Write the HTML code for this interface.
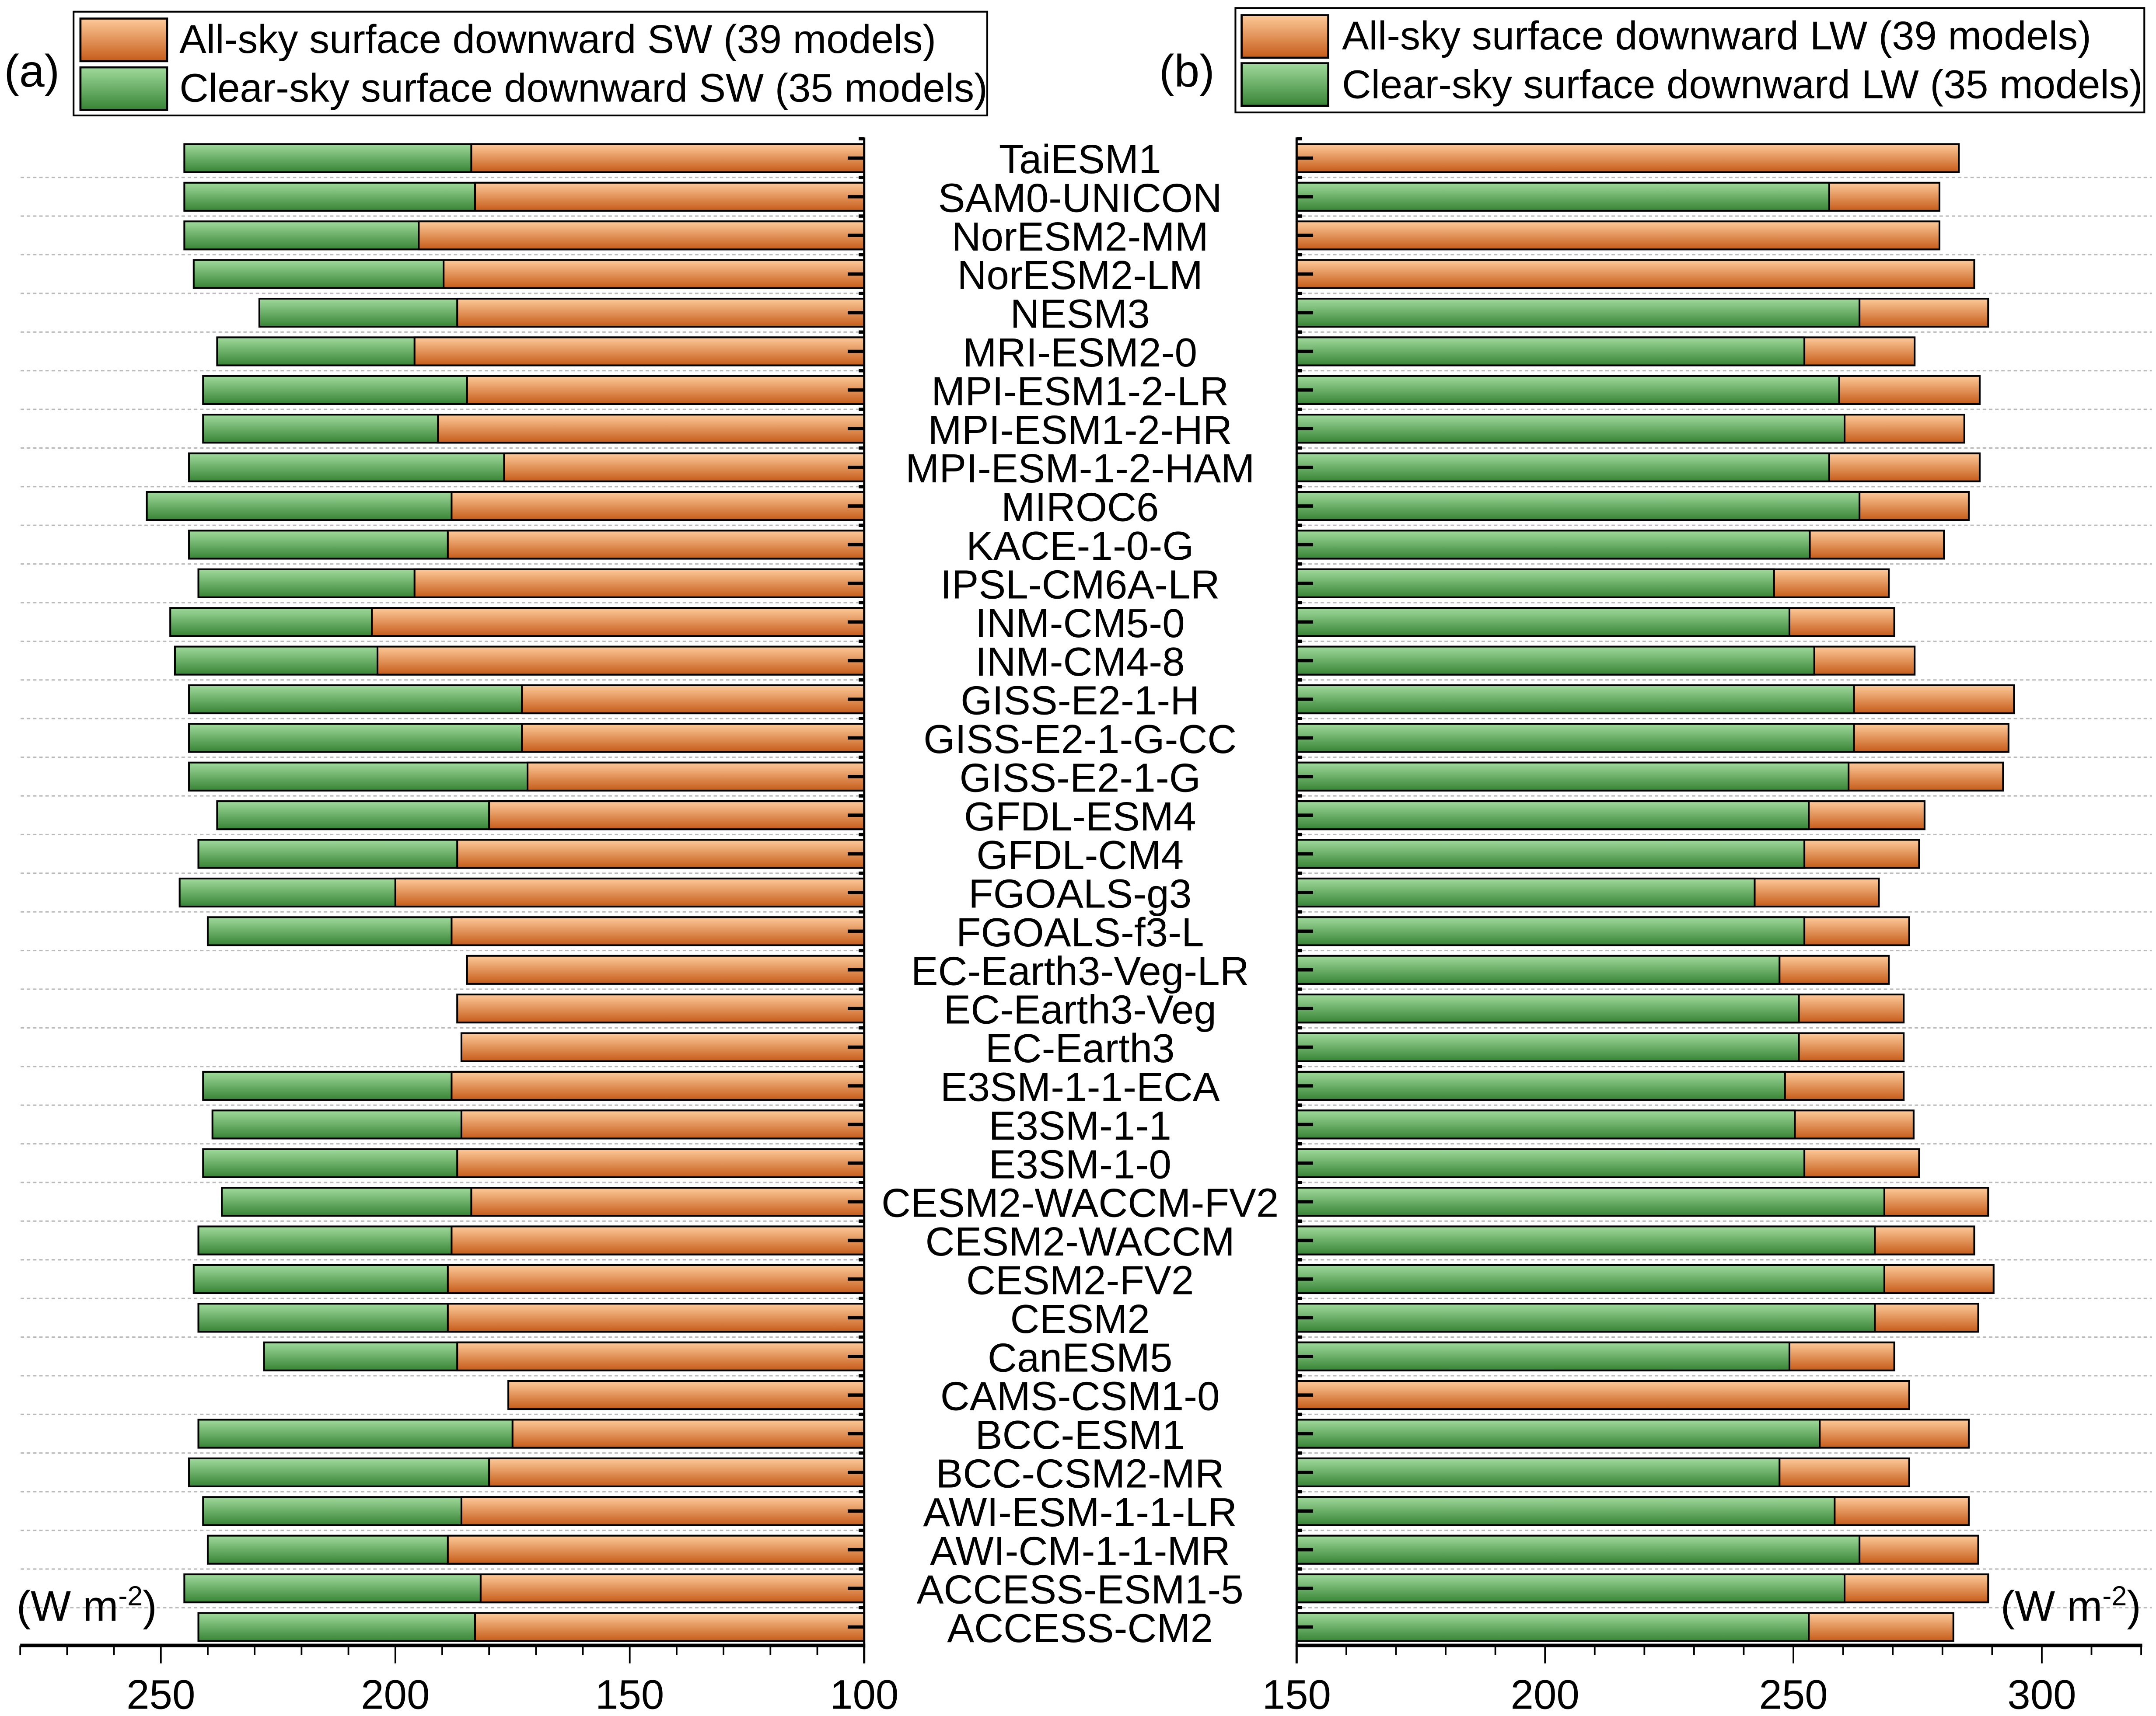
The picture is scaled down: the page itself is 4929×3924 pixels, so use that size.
<!DOCTYPE html>
<html><head><meta charset="utf-8"><title>CMIP6 surface downward radiation</title>
<style>html,body{margin:0;padding:0;background:#fff}svg{display:block}text{font-family:"Liberation Sans",sans-serif;fill:#000}</style>
</head><body>
<svg id="chart" xmlns="http://www.w3.org/2000/svg" width="4929" height="3924" viewBox="0 0 1568 1248.3" preserveAspectRatio="none">
<defs>
<linearGradient id="gOr" x1="0" y1="0" x2="0" y2="1"><stop offset="0" stop-color="#fdca9a"/><stop offset="1" stop-color="#c65c1a"/></linearGradient>
<linearGradient id="gGr" x1="0" y1="0" x2="0" y2="1"><stop offset="0" stop-color="#a0da9c"/><stop offset="1" stop-color="#378435"/></linearGradient>
</defs>
<g id="grid"></g>
<g id="barsA"></g>
<g id="barsB"></g>
<g id="axes"></g>
<g id="cats"></g>
<g>
<rect x="53.5" y="8.5" width="664.5" height="75.5" fill="#fff" stroke="#000" stroke-width="1.3"/>
<rect x="58.5" y="13.5" width="63" height="31" fill="url(#gOr)" stroke="#000" stroke-width="1.5"/>
<rect x="58.5" y="49" width="63" height="31" fill="url(#gGr)" stroke="#000" stroke-width="1.5"/>
<text x="130.5" y="38.5" font-size="29.3">All-sky surface downward SW (39 models)</text>
<text x="130.5" y="74" font-size="29.3">Clear-sky surface downward SW (35 models)</text>
</g>
<g>
<rect x="898.5" y="5.8" width="661" height="76" fill="#fff" stroke="#000" stroke-width="1.3"/>
<rect x="903" y="11" width="63" height="31" fill="url(#gOr)" stroke="#000" stroke-width="1.5"/>
<rect x="903" y="46" width="63" height="31" fill="url(#gGr)" stroke="#000" stroke-width="1.5"/>
<text x="976" y="36" font-size="29.3">All-sky surface downward LW (39 models)</text>
<text x="976" y="71.5" font-size="29.3">Clear-sky surface downward LW (35 models)</text>
</g>
<text x="3" y="63" font-size="33">(a)</text>
<text x="843" y="63" font-size="33">(b)</text>
<text x="12" y="1179" font-size="31">(W m<tspan baseline-shift="super" font-size="20">-2</tspan>)</text>
<text x="1455" y="1179" font-size="31">(W m<tspan baseline-shift="super" font-size="20">-2</tspan>)</text>
</svg>
<script>
const models = ["TaiESM1","SAM0-UNICON","NorESM2-MM","NorESM2-LM","NESM3","MRI-ESM2-0","MPI-ESM1-2-LR","MPI-ESM1-2-HR","MPI-ESM-1-2-HAM","MIROC6","KACE-1-0-G","IPSL-CM6A-LR","INM-CM5-0","INM-CM4-8","GISS-E2-1-H","GISS-E2-1-G-CC","GISS-E2-1-G","GFDL-ESM4","GFDL-CM4","FGOALS-g3","FGOALS-f3-L","EC-Earth3-Veg-LR","EC-Earth3-Veg","EC-Earth3","E3SM-1-1-ECA","E3SM-1-1","E3SM-1-0","CESM2-WACCM-FV2","CESM2-WACCM","CESM2-FV2","CESM2","CanESM5","CAMS-CSM1-0","BCC-ESM1","BCC-CSM2-MR","AWI-ESM-1-1-LR","AWI-CM-1-1-MR","ACCESS-ESM1-5","ACCESS-CM2"];
const swAll = [183.8,183,195,189.7,186.8,195.9,184.7,190.9,176.8,188,188.8,195.9,205,203.8,173,173,171.8,180,186.8,200,188,184.7,186.8,185.9,188,185.9,186.8,183.8,188,188.8,188.8,186.8,175.9,175,180,185.9,188.8,181.8,183];
const swClear = [245,245,245,243,229,238,241,241,244,253,244,242,248,247,244,244,244,238,242,246,240,null,null,null,241,239,241,237,242,243,242,228,null,242,244,241,240,245,242];
const lwAll = [283.3,279.4,279.4,286.4,289.2,274.4,287.5,284.4,287.5,285.3,280.3,269.2,270.3,274.4,294.4,293.3,292.2,276.4,275.3,267.2,273.3,269.2,272.2,272.2,272.2,274.2,275.3,289.2,286.4,290.3,287.2,270.3,273.3,285.3,273.3,285.3,287.2,289.2,282.2];
const lwClear = [null,257.2,null,null,263.3,252.2,259.2,260.3,257.2,263.3,253.3,246.1,249.2,254.2,262.2,262.2,261.1,253.1,252.2,242.2,252.2,247.2,251.1,251.1,248.3,250.3,252.2,268.3,266.4,268.3,266.4,249.2,null,255.3,247.2,258.3,263.3,260.3,253.1];
const ticksA = [250,200,150,100];
const ticksB = [150,200,250,300];

const NS="http://www.w3.org/2000/svg";
function mk(tag, attrs, parent){const e=document.createElementNS(NS,tag);for(const k in attrs)e.setAttribute(k,attrs[k]);parent.appendChild(e);return e;}
const xA = v => 628.5 - (v-100)*3.41;   // reversed
const xB = v => 943 + (v-150)*3.613;
const rowY = i => 115 + i*28.12;
const BH = 20.4, AXY = 1197;
const grid=document.getElementById('grid'), bA=document.getElementById('barsA'), bB=document.getElementById('barsB'), ax=document.getElementById('axes'), cats=document.getElementById('cats');

for(let i=0;i<models.length-1;i++){
  const y=rowY(i)+14.06;
  let l=mk('line',{x1:15,x2:xA(100)-4,y1:y,y2:y,stroke:'#bbb','stroke-width':1,'stroke-dasharray':'2.5,2'},grid);
  
  
  let r=mk('line',{x1:xB(150)+4,x2:1565,y1:y,y2:y,stroke:'#bbb','stroke-width':1,'stroke-dasharray':'2.5,2'},grid);
  
  
}
models.forEach((m,i)=>{
  const y=rowY(i)-BH/2;
  if(swClear[i]!=null){
    const g=mk('rect',{x:xA(swClear[i]),y:y,width:xA(100)-xA(swClear[i]),height:BH,fill:'url(#gGr)',stroke:'#000','stroke-width':1.3},bA);
    
    
  }
  const o=mk('rect',{x:xA(swAll[i]),y:y,width:xA(100)-xA(swAll[i]),height:BH,fill:'url(#gOr)',stroke:'#000','stroke-width':1.3},bA);
  
  
  const o2=mk('rect',{x:xB(150),y:y,width:xB(lwAll[i])-xB(150),height:BH,fill:'url(#gOr)',stroke:'#000','stroke-width':1.3},bB);
  
  
  if(lwClear[i]!=null){
    const g2=mk('rect',{x:xB(150),y:y,width:xB(lwClear[i])-xB(150),height:BH,fill:'url(#gGr)',stroke:'#000','stroke-width':1.3},bB);
    
    
  }
  const t=mk('text',{x:785.5,y:rowY(i)+11,'font-size':29.5,'text-anchor':'middle'},cats);
  t.textContent=m;
  
  
});
mk('line',{x1:xA(100),x2:xA(100),y1:100,y2:AXY+13,stroke:'#000','stroke-width':1.6},ax);
mk('line',{x1:xB(150),x2:xB(150),y1:100,y2:AXY+13,stroke:'#000','stroke-width':1.6},ax);
mk('line',{x1:xA(280),x2:xA(100)+0.8,y1:AXY,y2:AXY,stroke:'#000','stroke-width':2.6},ax);
mk('line',{x1:xB(150)-0.8,x2:xB(320)+0.8,y1:AXY,y2:AXY,stroke:'#000','stroke-width':2.6},ax);
for(let i=0;i<models.length;i++){
  const y=rowY(i);
  mk('line',{x1:xA(100)-12,x2:xA(100),y1:y,y2:y,stroke:'#000','stroke-width':2.4},ax);
  mk('line',{x1:xB(150),x2:xB(150)+12,y1:y,y2:y,stroke:'#000','stroke-width':2.4},ax);
}
for(let i=0;i<models.length;i++){
  const y=rowY(i)-14.06;
  mk('line',{x1:xA(100)-4,x2:xA(100),y1:y,y2:y,stroke:'#000','stroke-width':2.4},ax);
  mk('line',{x1:xB(150),x2:xB(150)+4,y1:y,y2:y,stroke:'#000','stroke-width':2.4},ax);
}
for(let v=100;v<=280;v+=10){const x=xA(v);const maj=(v%50===0);mk('line',{x1:x,x2:x,y1:AXY,y2:AXY+(maj?13:7),stroke:'#000','stroke-width':1.2},ax);}
for(let v=150;v<=320;v+=10){const x=xB(v);const maj=(v%50===0);mk('line',{x1:x,x2:x,y1:AXY,y2:AXY+(maj?13:7),stroke:'#000','stroke-width':1.2},ax);}
ticksA.forEach(v=>{const t=mk('text',{x:xA(v),y:1243,'font-size':30,'text-anchor':'middle'},ax);t.textContent=v;
  
  });
ticksB.forEach(v=>{const t=mk('text',{x:xB(v),y:1243,'font-size':30,'text-anchor':'middle'},ax);t.textContent=v;
  
  });
</script>
</body></html>
